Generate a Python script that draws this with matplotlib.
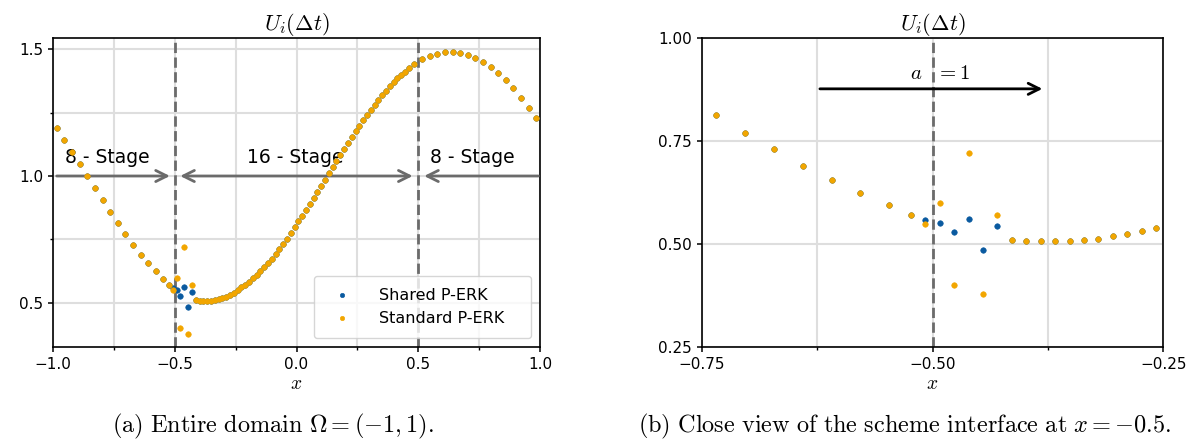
import numpy as np
import matplotlib.pyplot as plt
from matplotlib.ticker import MultipleLocator

plt.rcParams['mathtext.fontset'] = 'cm'
plt.rcParams['font.family'] = ['DejaVu Sans']

# cell centres: coarse (dx = 1/32) | fine (dx = 1/64) | coarse
x_left = [-0.9844, -0.9531, -0.9219, -0.8906, -0.8594, -0.8281, -0.7969, -0.7656,
          -0.7344, -0.7031, -0.6719, -0.6406, -0.6094, -0.5781, -0.5469]
x_mid = [-0.5234, -0.5078, -0.4922, -0.4766, -0.4609, -0.4453, -0.4297, -0.4141,
         -0.3984, -0.3828, -0.3672, -0.3516, -0.3359, -0.3203, -0.3047, -0.2891,
         -0.2734, -0.2578, -0.2422, -0.2266, -0.2109, -0.1953, -0.1797, -0.1641,
         -0.1484, -0.1328, -0.1172, -0.1016, -0.0859, -0.0703, -0.0547, -0.0391,
         -0.0234, -0.0078, 0.0078, 0.0234, 0.0391, 0.0547, 0.0703, 0.0859,
         0.1016, 0.1172, 0.1328, 0.1484, 0.1641, 0.1797, 0.1953, 0.2109,
         0.2266, 0.2422, 0.2578, 0.2734, 0.2891, 0.3047, 0.3203, 0.3359,
         0.3516, 0.3672, 0.3828, 0.3984, 0.4141, 0.4297, 0.4453, 0.4609]
x_right = [0.4844, 0.5156, 0.5469, 0.5781, 0.6094, 0.6406, 0.6719, 0.7031, 0.7344,
           0.7656, 0.7969, 0.8281, 0.8594, 0.8906, 0.9219, 0.9531, 0.9844]

u_left = [1.188, 1.142, 1.095, 1.049, 1.000, 0.951, 0.905, 0.859,
          0.813, 0.770, 0.729, 0.690, 0.655, 0.623, 0.594]
u_mid = [0.569, 0.549, 0.599, 0.400, 0.721, 0.378, 0.569, 0.509,
         0.508, 0.507, 0.507, 0.508, 0.510, 0.513, 0.518, 0.523,
         0.531, 0.539, 0.550, 0.560, 0.571, 0.583, 0.596, 0.609,
         0.624, 0.640, 0.656, 0.673, 0.692, 0.711, 0.732, 0.753,
         0.775, 0.798, 0.821, 0.844, 0.867, 0.891, 0.914, 0.938,
         0.962, 0.986, 1.011, 1.035, 1.059, 1.083, 1.107, 1.130,
         1.154, 1.177, 1.199, 1.221, 1.242, 1.262, 1.282, 1.301,
         1.319, 1.337, 1.354, 1.370, 1.385, 1.399, 1.412, 1.428]
u_right = [1.442, 1.461, 1.472, 1.482, 1.491, 1.490, 1.487, 1.479, 1.467,
           1.451, 1.430, 1.406, 1.378, 1.346, 1.307, 1.269, 1.230]

# shared P-ERK differs from standard only in the cells right of the interface
shared_cells = [16, 17, 18, 19, 20, 21]
u_shared_cells = [0.559, 0.550, 0.528, 0.560, 0.484, 0.544]

x = np.array(x_left + x_mid + x_right)
u_standard = np.array(u_left + u_mid + u_right)
u_shared = u_standard.copy()
u_shared[shared_cells] = u_shared_cells

blue = '#0a5aa0'
orange = '#f2a600'
gray = '#6b6b6b'
grid_c = '#dedede'


def draw_points(ax):
	ax.plot(x, u_shared, 'o', color=blue, ms=4, mew=0.4, label='Shared P-ERK', zorder=3)
	ax.plot(x, u_standard, 'o', color=orange, ms=4, mew=0.4, label='Standard P-ERK', zorder=4)


def style(ax):
	ax.grid(True, which='both', color=grid_c, lw=1.5)
	ax.set_axisbelow(True)
	ax.tick_params(labelsize=11, width=1.1)
	ax.tick_params(which='minor', width=1.0)
	for s in ax.spines.values():
		s.set_linewidth(1.2)
	ax.set_title(r'$U_i(\Delta t)$', fontsize=16, pad=5)
	ax.set_xlabel(r'$x$', fontsize=14, labelpad=2)


fig = plt.figure(figsize=(11.95, 4.41), dpi=100)
ax1 = fig.add_axes([0.0444, 0.2132, 0.4075, 0.7013])
ax2 = fig.add_axes([0.5872, 0.2132, 0.3863, 0.7013])

# (a) whole domain
draw_points(ax1)
ax1.set_xlim(-1, 1)
ax1.set_ylim(0.325, 1.546)
ax1.xaxis.set_major_locator(MultipleLocator(0.5))
ax1.xaxis.set_minor_locator(MultipleLocator(0.25))
ax1.yaxis.set_major_locator(MultipleLocator(0.5))
ax1.yaxis.set_minor_locator(MultipleLocator(0.25))
style(ax1)
for xv in [-0.5, 0.5]:
	ax1.axvline(xv, color=gray, ls='--', lw=2, zorder=2.5)

arr = dict(color=gray, lw=2, mutation_scale=20, shrinkA=0, shrinkB=0)
ax1.annotate('', xy=(-0.52, 1.0), xytext=(-0.985, 1.0), arrowprops=dict(arrowstyle='->', **arr))
ax1.annotate('', xy=(0.477, 1.0), xytext=(-0.478, 1.0), arrowprops=dict(arrowstyle='<->', **arr))
ax1.annotate('', xy=(0.524, 1.0), xytext=(0.993, 1.0), arrowprops=dict(arrowstyle='->', **arr))
ax1.text(-0.778, 1.075, '8 - Stage', ha='center', va='center', fontsize=13.5)
ax1.text(-0.005, 1.072, '16 - Stage', ha='center', va='center', fontsize=13.5)
ax1.text(0.721, 1.075, '8 - Stage', ha='center', va='center', fontsize=13.5)
leg = ax1.legend(loc='lower right', fontsize=11.5, handletextpad=1.3, markerscale=0.8,
                 numpoints=1, framealpha=0.8, borderpad=0.75, handlelength=2.0,
                 borderaxespad=0.55)
# the reference legend box has extra room right of the labels
for t in leg.get_texts():
	t.set_text(t.get_text() + '   ')

# (b) close-up of the interface
draw_points(ax2)
ax2.set_xlim(-0.75, -0.25)
ax2.set_ylim(0.25, 1.0)
ax2.set_xticks([-0.75, -0.5, -0.25])
ax2.set_xticks([-0.625, -0.375], minor=True)
ax2.set_yticks([0.25, 0.5, 0.75, 1.0])
style(ax2)
ax2.axvline(-0.5, color=gray, ls='--', lw=2, zorder=2.5)
ax2.annotate('', xy=(-0.381, 0.876), xytext=(-0.622, 0.876),
             arrowprops=dict(arrowstyle='->', color='black', lw=2, mutation_scale=20,
                             shrinkA=0, shrinkB=0))
ax2.text(-0.492, 0.914, r'$a\ \ \,= 1$', ha='center', va='center', fontsize=15)

fig.text(273 / 1195, 0.034, r'$\mathrm{(a)\ Entire\ domain\ }\Omega = (-1, 1).$',
         ha='center', va='center', fontsize=17.5)
fig.text(905 / 1195, 0.034,
         r'$\mathrm{(b)\ Close\ view\ of\ the\ scheme\ interface\ at\ }x = -0.5.$',
         ha='center', va='center', fontsize=17.5)

fig.savefig('out.png', dpi=100)
